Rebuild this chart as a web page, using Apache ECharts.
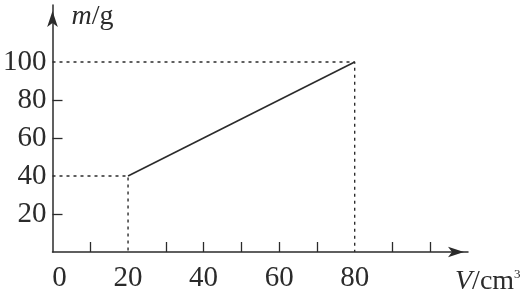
<!DOCTYPE html>
<html>
<head>
<meta charset="utf-8">
<script src="https://cdn.jsdelivr.net/npm/echarts@6/dist/echarts.min.js"></script>
<style>html,body{margin:0;padding:0;background:#fff}#c{width:527px;height:296px}</style>
</head>
<body>
<div id="c"></div>
<script>
// data
var lineX = [20, 80];
var lineY = [40, 100];
var guideLowX = [0, 20, 20];
var guideLowY = [40, 40, 0];
var guideHighX = [0, 80, 80];
var guideHighY = [100, 100, 0];
var xTicks = [10, 30, 40, 50, 60, 70, 90, 100];
var xLabels = [0, 20, 40, 60, 80];
var yTicks = [20, 60, 80];
var yLabels = [20, 40, 60, 80, 100];

function pairs(xs, ys) { return xs.map(function (x, i) { return [x, ys[i]]; }); }

var ink = '#2b2b2b';
var font = 'Liberation Serif';

var chart = echarts.init(document.getElementById('c'), null, { renderer: 'canvas' });
chart.setOption({
  animation: false,
  backgroundColor: '#fff',
  grid: { left: 51, right: 59, top: 5, bottom: 39, containLabel: false },
  xAxis: {
    type: 'value', min: 0, max: 110,
    splitLine: { show: false },
    axisLine: { show: true, onZero: false, symbol: ['none', 'arrow'], symbolSize: [8, 16], symbolOffset: [0, -4],
      lineStyle: { color: ink, width: 1.5 } },
    axisTick: { show: true, inside: true, length: 10, customValues: xTicks, lineStyle: { color: ink, width: 1.3 } },
    axisLabel: { show: true, customValues: xLabels, margin: 12, color: ink, fontFamily: font, fontSize: 29,
      formatter: function (v) { return v === 0 ? '{z|0}' : String(v); },
      rich: { z: { fontFamily: font, fontSize: 29, color: ink, padding: [0, 0, 0, 14] } } },
    name: '{i|V}/cm{s|3}',
    nameLocation: 'end',
    nameGap: -13,
    nameTextStyle: {
      fontFamily: font, fontSize: 28, color: ink, align: 'left', verticalAlign: 'middle', padding: [60, 0, 0, 0],
      rich: {
        i: { fontFamily: font, fontSize: 28, fontStyle: 'italic', color: ink },
        s: { fontFamily: font, fontSize: 13, color: ink, verticalAlign: 'top' }
      }
    }
  },
  yAxis: {
    type: 'value', min: 0, max: 130,
    splitLine: { show: false },
    axisLine: { show: true, onZero: false, symbol: ['none', 'arrow'], symbolSize: [8, 16], symbolOffset: [0, -6],
      lineStyle: { color: ink, width: 1.5 } },
    axisTick: { show: true, inside: true, length: 10, customValues: yTicks, lineStyle: { color: ink, width: 1.3 } },
    axisLabel: { show: true, customValues: yLabels, margin: 6, color: ink, fontFamily: font, fontSize: 29, padding: [7, 0, 0, 0] },
    name: '{i|m}/g',
    nameLocation: 'end',
    nameGap: -12,
    nameTextStyle: {
      fontFamily: font, fontSize: 28, color: ink, align: 'left', verticalAlign: 'middle', padding: [0, 0, 0, 19],
      rich: { i: { fontFamily: font, fontSize: 28, fontStyle: 'italic', color: ink } }
    }
  },
  series: [
    { type: 'line', data: pairs(lineX, lineY), symbol: 'none', lineStyle: { color: ink, width: 1.6 } },
    { type: 'line', data: pairs(guideLowX, guideLowY), symbol: 'none', lineStyle: { color: ink, width: 1.4, type: [3, 4] } },
    { type: 'line', data: pairs(guideHighX, guideHighY), symbol: 'none', lineStyle: { color: ink, width: 1.4, type: [3, 4] } }
  ]
});
</script>
</body>
</html>
